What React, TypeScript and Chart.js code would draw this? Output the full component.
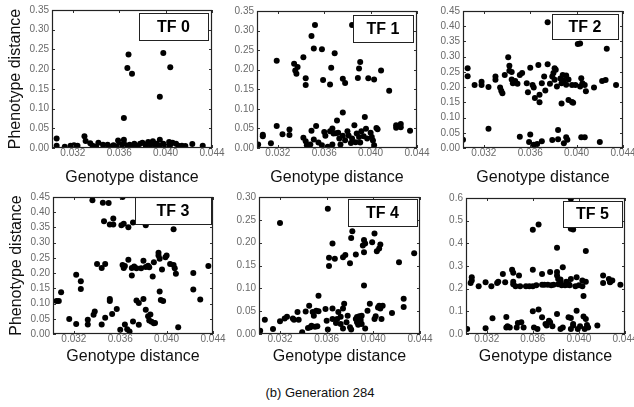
import React, { useEffect, useRef } from "react";
import { Chart, registerables } from "chart.js";

Chart.register(...registerables);

const FONT = 'Arial, "Liberation Sans", Helvetica, sans-serif';

// ---- tick values ----
const xTicks = [0.032, 0.036, 0.04, 0.044];
const yTicks035 = [0, 0.05, 0.1, 0.15, 0.2, 0.25, 0.3, 0.35];
const yTicks045 = [0, 0.05, 0.1, 0.15, 0.2, 0.25, 0.3, 0.35, 0.4, 0.45];
const yTicks030 = [0, 0.05, 0.1, 0.15, 0.2, 0.25, 0.3];
const yTicks06 = [0, 0.1, 0.2, 0.3, 0.4, 0.5, 0.6];
const xMin = 0.0302;
const xMax = 0.044;

const xTitle = "Genotype distance";
const yTitle = "Phenotype distance";
const caption = "(b) Generation 284";

// ---- data: [genotype distance, phenotype distance] ----
const tf0Points = [
  [0.0368, 0.237], [0.0367, 0.203], [0.0371, 0.188], [0.0398, 0.241], [0.0404, 0.205], [0.0395, 0.13], [0.0364, 0.076],
  [0.0306, 0.024], [0.0306, 0.006], [0.0313, 0.003], [0.0318, 0.006], [0.0321, 0.007], [0.0324, 0.006], [0.033, 0.03],
  [0.0331, 0.018], [0.0335, 0.012], [0.0337, 0.006], [0.034, 0.004], [0.0342, 0.013], [0.0346, 0.008], [0.035, 0.008],
  [0.0352, 0.003], [0.0355, 0.007], [0.0357, 0.004], [0.0359, 0.019], [0.036, 0.009], [0.0362, 0.003], [0.0364, 0.021],
  [0.0364, 0.012], [0.0367, 0.006], [0.0369, 0.008], [0.0371, 0.004], [0.0373, 0.011], [0.0376, 0.005], [0.0378, 0.011],
  [0.038, 0.013], [0.0383, 0.009], [0.0383, 0.004], [0.0385, 0.015], [0.0387, 0.009], [0.0389, 0.017], [0.039, 0.012],
  [0.0391, 0.005], [0.0392, 0.011], [0.0395, 0.021], [0.0395, 0.006], [0.0398, 0.011], [0.04, 0.004], [0.0403, 0.015],
  [0.0404, 0.008], [0.0406, 0.013], [0.0409, 0.011], [0.0411, 0.006], [0.0414, 0.006], [0.0417, 0.005], [0.0423, 0.01],
  [0.0432, 0.006],
];

const tf1Points = [
  [0.0352, 0.314], [0.0349, 0.286], [0.0351, 0.254], [0.0358, 0.252], [0.0342, 0.232], [0.0369, 0.242], [0.0319, 0.223],
  [0.0334, 0.215], [0.0337, 0.207], [0.0335, 0.198], [0.0336, 0.19], [0.0344, 0.178], [0.0344, 0.161], [0.0366, 0.205],
  [0.0359, 0.174], [0.0365, 0.162], [0.0376, 0.177], [0.0378, 0.166], [0.0384, 0.314], [0.0391, 0.22], [0.039, 0.203],
  [0.0389, 0.179], [0.0398, 0.178], [0.0403, 0.175], [0.0409, 0.198], [0.0416, 0.146], [0.0376, 0.091], [0.0395, 0.079],
  [0.0371, 0.07],
  [0.0303, 0.009], [0.0307, 0.034], [0.0307, 0.03], [0.0314, 0.012], [0.0319, 0.056], [0.0324, 0.035], [0.033, 0.047],
  [0.033, 0.033], [0.0342, 0.026], [0.0344, 0.017], [0.0345, 0.007], [0.0348, 0.009], [0.0349, 0.044], [0.0351, 0.022],
  [0.0353, 0.056], [0.0355, 0.014], [0.0358, 0.007], [0.036, 0.041], [0.0361, 0.031], [0.0363, 0.003], [0.0365, 0.043],
  [0.0367, 0.05], [0.0368, 0.037], [0.0367, 0.009], [0.037, 0.038], [0.0372, 0.039], [0.0373, 0.024], [0.0374, 0.009],
  [0.0376, 0.031], [0.0378, 0.02], [0.038, 0.043], [0.0381, 0.032], [0.0383, 0.013], [0.0384, 0.024], [0.0386, 0.058],
  [0.0387, 0.015], [0.0388, 0.037], [0.039, 0.028], [0.0391, 0.014], [0.0392, 0.043], [0.0394, 0.03], [0.0396, 0.049],
  [0.0397, 0.024], [0.04, 0.039], [0.0401, 0.028], [0.0402, 0.019], [0.0403, 0.007], [0.0405, 0.051], [0.0406, 0.048],
  [0.0422, 0.052], [0.0422, 0.058], [0.0426, 0.061], [0.0426, 0.053], [0.0434, 0.044],
];

const tf2Points = [
  [0.0375, 0.413], [0.0401, 0.342], [0.0403, 0.343], [0.0426, 0.326], [0.0341, 0.298], [0.0342, 0.27], [0.0342, 0.254],
  [0.0344, 0.25], [0.0306, 0.262], [0.0306, 0.236], [0.0312, 0.207], [0.0318, 0.218], [0.0318, 0.207], [0.0324, 0.2],
  [0.033, 0.235], [0.033, 0.224], [0.0334, 0.199], [0.0335, 0.188], [0.0336, 0.18], [0.0338, 0.24], [0.0344, 0.225],
  [0.0345, 0.213], [0.0347, 0.22], [0.0349, 0.211], [0.0351, 0.24], [0.0353, 0.246], [0.0357, 0.213], [0.036, 0.264],
  [0.0358, 0.183], [0.0362, 0.207], [0.0363, 0.199], [0.0364, 0.164], [0.0367, 0.273], [0.0368, 0.175], [0.0368, 0.15],
  [0.037, 0.213], [0.0372, 0.235], [0.0373, 0.189], [0.0375, 0.275], [0.0377, 0.211], [0.0379, 0.235], [0.038, 0.246],
  [0.0381, 0.262], [0.0382, 0.257], [0.0383, 0.202], [0.0381, 0.224], [0.0386, 0.228], [0.0387, 0.213], [0.0388, 0.24],
  [0.0389, 0.222], [0.0391, 0.238], [0.0391, 0.208], [0.0393, 0.225], [0.0387, 0.146], [0.0393, 0.158], [0.0396, 0.151],
  [0.0397, 0.149], [0.0396, 0.207], [0.0399, 0.207], [0.0403, 0.202], [0.0404, 0.229], [0.0405, 0.213], [0.0407, 0.207],
  [0.0408, 0.186], [0.0415, 0.199], [0.0422, 0.22], [0.0425, 0.223], [0.0434, 0.207],
  [0.0324, 0.063], [0.0351, 0.037], [0.036, 0.044], [0.0359, 0.02], [0.0363, 0.011], [0.0366, 0.013], [0.037, 0.022],
  [0.0379, 0.026], [0.0384, 0.059], [0.0384, 0.029], [0.0389, 0.016], [0.0391, 0.035], [0.0392, 0.027], [0.0404, 0.035],
  [0.0407, 0.035], [0.042, 0.02], [0.0302, 0.027],
];

const tf3Points = [
  [0.0336, 0.439], [0.0345, 0.431], [0.035, 0.43], [0.0362, 0.45], [0.0346, 0.37], [0.0354, 0.379], [0.0351, 0.36],
  [0.0354, 0.36], [0.0361, 0.357], [0.0363, 0.362], [0.0367, 0.351], [0.0371, 0.366], [0.0382, 0.357], [0.0406, 0.344],
  [0.034, 0.23], [0.0344, 0.217], [0.0347, 0.23], [0.0362, 0.227], [0.0363, 0.217], [0.0364, 0.223], [0.0367, 0.244],
  [0.037, 0.192], [0.037, 0.217], [0.0372, 0.222], [0.0374, 0.216], [0.0378, 0.216], [0.038, 0.241], [0.0382, 0.22],
  [0.0384, 0.224], [0.0385, 0.219], [0.0388, 0.189], [0.0389, 0.236], [0.0393, 0.267], [0.0393, 0.258], [0.0394, 0.247],
  [0.0396, 0.212], [0.0399, 0.252], [0.04, 0.258], [0.0403, 0.23], [0.0406, 0.227], [0.0407, 0.216], [0.0408, 0.198],
  [0.0423, 0.2], [0.0436, 0.223], [0.0322, 0.195], [0.0326, 0.173], [0.0326, 0.148],
  [0.0309, 0.137], [0.0305, 0.108], [0.0307, 0.108], [0.0316, 0.049], [0.0322, 0.033], [0.0332, 0.047], [0.0332, 0.031],
  [0.0337, 0.063], [0.0338, 0.074], [0.0344, 0.031], [0.0347, 0.053], [0.0351, 0.115], [0.0351, 0.108], [0.0353, 0.066],
  [0.0357, 0.082], [0.036, 0.014], [0.0364, 0.031], [0.0366, 0.016], [0.0368, 0.008], [0.0371, 0.041], [0.0374, 0.11],
  [0.0376, 0.102], [0.0376, 0.03], [0.038, 0.115], [0.0382, 0.08], [0.0384, 0.058], [0.0385, 0.044], [0.0386, 0.064],
  [0.0387, 0.04], [0.0389, 0.035], [0.039, 0.036], [0.0394, 0.14], [0.0395, 0.112], [0.0397, 0.108], [0.041, 0.022],
  [0.0423, 0.146], [0.0429, 0.113],
];

const tf4Points = [
  [0.0361, 0.274], [0.032, 0.243], [0.0382, 0.225], [0.0381, 0.21], [0.0401, 0.22], [0.0365, 0.198], [0.0392, 0.206],
  [0.0393, 0.198], [0.0391, 0.194], [0.0399, 0.201], [0.0406, 0.196], [0.0405, 0.187], [0.0403, 0.181], [0.0392, 0.179],
  [0.0385, 0.174], [0.0376, 0.173], [0.0374, 0.168], [0.0367, 0.165], [0.0362, 0.167], [0.0362, 0.149], [0.038, 0.155],
  [0.0422, 0.157], [0.0435, 0.177], [0.0392, 0.106], [0.0353, 0.084],
  [0.0303, 0.007], [0.0307, 0.031], [0.0314, 0.011], [0.032, 0.028], [0.0324, 0.034], [0.0326, 0.038], [0.0331, 0.034],
  [0.0332, 0.031], [0.0335, 0.048], [0.0336, 0.031], [0.0339, 0.004], [0.0342, 0.049], [0.0344, 0.013], [0.0345, 0.062],
  [0.0346, 0.015], [0.0347, 0.018], [0.0348, 0.048], [0.0349, 0.04], [0.035, 0.016], [0.0351, 0.051], [0.0352, 0.017],
  [0.0353, 0.05], [0.0359, 0.055], [0.036, 0.029], [0.0361, 0.01], [0.0365, 0.056], [0.0365, 0.033], [0.0368, 0.024],
  [0.0369, 0.033], [0.037, 0.048], [0.0372, 0.038], [0.0374, 0.056], [0.0375, 0.066], [0.0372, 0.022], [0.0374, 0.012],
  [0.0377, 0.026], [0.0378, 0.04], [0.038, 0.015], [0.0381, 0.01], [0.0385, 0.033], [0.0386, 0.026], [0.0386, 0.037],
  [0.0388, 0.039], [0.0389, 0.029], [0.039, 0.04], [0.0389, 0.033], [0.0387, 0.02], [0.039, 0.022], [0.0393, 0.012],
  [0.0395, 0.051], [0.0397, 0.066], [0.0401, 0.033], [0.0402, 0.039], [0.0404, 0.058], [0.0405, 0.062], [0.0408, 0.062],
  [0.0406, 0.056], [0.0407, 0.033], [0.0416, 0.046], [0.0426, 0.077], [0.0426, 0.059],
];

const tf5Points = [
  [0.0393, 0.597], [0.036, 0.46], [0.0365, 0.483], [0.0393, 0.464], [0.0395, 0.461], [0.0381, 0.38], [0.0406, 0.366],
  [0.0386, 0.295], [0.0342, 0.284], [0.0343, 0.27], [0.036, 0.284], [0.0334, 0.265], [0.0348, 0.258], [0.0368, 0.265],
  [0.0375, 0.273], [0.0381, 0.273], [0.0381, 0.258], [0.0382, 0.243], [0.0384, 0.24], [0.0393, 0.243], [0.0398, 0.25],
  [0.0403, 0.236], [0.0307, 0.25], [0.0307, 0.236], [0.0421, 0.258], [0.0426, 0.243], [0.0427, 0.231],
  [0.0306, 0.225], [0.0313, 0.211], [0.0319, 0.228], [0.0324, 0.211], [0.0329, 0.225], [0.033, 0.231], [0.0336, 0.228],
  [0.0343, 0.23], [0.0343, 0.22], [0.0345, 0.211], [0.0349, 0.211], [0.0354, 0.211], [0.0357, 0.211], [0.036, 0.211],
  [0.0363, 0.215], [0.0368, 0.217], [0.037, 0.217], [0.0373, 0.217], [0.0376, 0.215], [0.0378, 0.217], [0.0382, 0.22],
  [0.0385, 0.215], [0.0388, 0.215], [0.039, 0.217], [0.0392, 0.215], [0.0397, 0.211], [0.04, 0.215], [0.0403, 0.211],
  [0.0406, 0.23], [0.0384, 0.228], [0.0389, 0.231], [0.0391, 0.221], [0.0404, 0.168], [0.0421, 0.225], [0.0427, 0.228],
  [0.0429, 0.236], [0.0436, 0.217],
  [0.0303, 0.022], [0.0319, 0.025], [0.0325, 0.069], [0.0337, 0.075], [0.0337, 0.029], [0.0338, 0.034], [0.034, 0.029],
  [0.0346, 0.029], [0.0347, 0.049], [0.035, 0.052], [0.0352, 0.029], [0.036, 0.1], [0.0361, 0.029], [0.0364, 0.022],
  [0.0365, 0.108], [0.0368, 0.074], [0.0371, 0.044], [0.0372, 0.037], [0.0374, 0.059], [0.0375, 0.052], [0.0377, 0.034],
  [0.0381, 0.088], [0.0384, 0.022], [0.0386, 0.029], [0.0391, 0.074], [0.0393, 0.071], [0.0393, 0.022], [0.0395, 0.037],
  [0.0395, 0.044], [0.0398, 0.103], [0.0399, 0.022], [0.0401, 0.034], [0.0404, 0.077], [0.0406, 0.066], [0.0405, 0.022],
  [0.0407, 0.04], [0.0408, 0.029], [0.0416, 0.037],
];

type PanelCfg = {
  label: string;
  points: number[][];
  yTicks: number[];
  yDecimals: number;
  left: number;
  top: number;
  width: number;
  height: number;
  yAxisWidth: number;
  xAxisHeight: number;
  padTop: number;
  showYTitle: boolean;
  yTitlePad: number;
  boxW: number;
  boxH: number;
  boxRight: number;
  boxTop: number;
};

const panels: PanelCfg[] = [
  { label: "TF 0", points: tf0Points, yTicks: yTicks035, yDecimals: 2, left: 0, top: 0, width: 228, height: 190,
    yAxisWidth: 52, xAxisHeight: 38, padTop: 10, showYTitle: true, yTitlePad: 7.5,
    boxW: 69, boxH: 27, boxRight: 4, boxTop: 3 },
  { label: "TF 1", points: tf1Points, yTicks: yTicks035, yDecimals: 2, left: 227, top: 0, width: 206, height: 190,
    yAxisWidth: 30, xAxisHeight: 38, padTop: 11, showYTitle: false, yTitlePad: 0,
    boxW: 60, boxH: 27, boxRight: 4, boxTop: 4 },
  { label: "TF 2", points: tf2Points, yTicks: yTicks045, yDecimals: 2, left: 433, top: 0, width: 206, height: 190,
    yAxisWidth: 30, xAxisHeight: 38, padTop: 11, showYTitle: false, yTitlePad: 0,
    boxW: 66, boxH: 25, boxRight: 5, boxTop: 3 },
  { label: "TF 3", points: tf3Points, yTicks: yTicks045, yDecimals: 2, left: 0, top: 185, width: 229, height: 184,
    yAxisWidth: 53, xAxisHeight: 31, padTop: 12, showYTitle: true, yTitlePad: 9,
    boxW: 76, boxH: 27, boxRight: 2, boxTop: 0 },
  { label: "TF 4", points: tf4Points, yTicks: yTicks030, yDecimals: 2, left: 229, top: 185, width: 207, height: 184,
    yAxisWidth: 30, xAxisHeight: 31, padTop: 12, showYTitle: false, yTitlePad: 0,
    boxW: 69, boxH: 27, boxRight: 3, boxTop: 2 },
  { label: "TF 5", points: tf5Points, yTicks: yTicks06, yDecimals: 1, left: 436, top: 185, width: 205, height: 184,
    yAxisWidth: 30, xAxisHeight: 31, padTop: 13, showYTitle: false, yTitlePad: 0,
    boxW: 59, boxH: 26, boxRight: 3, boxTop: 3 },
];

const decorPlugin = {
  id: "decor",
  afterDatasetsDraw(chart: any, _args: any, opts: any) {
    const { ctx, chartArea } = chart;
    const { left, top, right, bottom } = chartArea;
    const xs = chart.scales.x;
    const ys = chart.scales.y;
    ctx.save();
    // inward tick marks
    ctx.strokeStyle = "#333";
    ctx.lineWidth = 1;
    ctx.beginPath();
    xs.ticks.forEach((t: any) => {
      const p = Math.round(xs.getPixelForValue(t.value)) + 0.5;
      ctx.moveTo(p, bottom);
      ctx.lineTo(p, bottom - 3);
      ctx.moveTo(p, top);
      ctx.lineTo(p, top + 3);
    });
    ys.ticks.forEach((t: any) => {
      const p = Math.round(ys.getPixelForValue(t.value)) + 0.5;
      ctx.moveTo(left, p);
      ctx.lineTo(left + 3, p);
      ctx.moveTo(right, p);
      ctx.lineTo(right - 3, p);
    });
    ctx.stroke();
    // label box
    const bx = Math.round(right - opts.boxRight - opts.boxW);
    const by = Math.round(top + opts.boxTop);
    ctx.fillStyle = "#fff";
    ctx.fillRect(bx, by, opts.boxW, opts.boxH);
    ctx.strokeStyle = "#222";
    ctx.strokeRect(bx + 0.5, by + 0.5, opts.boxW, opts.boxH);
    ctx.fillStyle = "#000";
    ctx.font = `bold 16px ${FONT}`;
    ctx.textAlign = "center";
    ctx.textBaseline = "middle";
    ctx.fillText(opts.label, bx + opts.boxW / 2, by + opts.boxH / 2 + 1);
    // frame
    ctx.strokeStyle = "#222";
    ctx.lineWidth = 1.2;
    ctx.strokeRect(left + 0.5, top + 0.5, right - left - 1, bottom - top - 1);
    ctx.restore();
  },
};

function Panel({ cfg }: { cfg: PanelCfg }) {
  const ref = useRef<HTMLCanvasElement>(null);
  useEffect(() => {
    if (!ref.current) return;
    const yT = cfg.yTicks;
    const chart = new Chart(ref.current, {
      type: "scatter",
      data: {
        datasets: [
          {
            data: cfg.points.map(([x, y]) => ({ x, y })),
            backgroundColor: "#000",
            borderColor: "#000",
            pointRadius: 3,
            pointBorderWidth: 0,
            clip: 0,
          } as any,
        ],
      },
      options: {
        animation: false,
        responsive: false,
        events: [],
        layout: { padding: { left: 0, right: 16, top: cfg.padTop, bottom: 4 } },
        plugins: {
          legend: { display: false },
          tooltip: { enabled: false },
          decor: {
            label: cfg.label,
            boxW: cfg.boxW,
            boxH: cfg.boxH,
            boxRight: cfg.boxRight,
            boxTop: cfg.boxTop,
          },
        } as any,
        scales: {
          x: {
            type: "linear",
            min: xMin,
            max: xMax,
            afterBuildTicks: (s: any) => {
              s.ticks = xTicks.map((v) => ({ value: v }));
            },
            afterFit: (s: any) => {
              s.height = cfg.xAxisHeight;
            },
            grid: { display: false, drawTicks: false },
            border: { display: false },
            ticks: {
              autoSkip: false,
              maxRotation: 0,
              padding: 0,
              color: "#6a6a6a",
              font: { family: FONT, size: 10, lineHeight: 1 },
              callback: (v: any) => Number(v).toFixed(3),
            },
            title: {
              display: true,
              text: xTitle,
              color: "#111",
              font: { family: FONT, size: 16, lineHeight: 1 },
              padding: { top: 0, bottom: 0 },
            },
          },
          y: {
            type: "linear",
            min: 0,
            max: yT[yT.length - 1],
            afterBuildTicks: (s: any) => {
              s.ticks = yT.map((v) => ({ value: v }));
            },
            afterFit: (s: any) => {
              s.width = cfg.yAxisWidth;
            },
            grid: { display: false, drawTicks: false },
            border: { display: false },
            ticks: {
              autoSkip: false,
              padding: 3,
              color: "#6a6a6a",
              font: { family: FONT, size: 10, lineHeight: 1 },
              callback: (v: any) => Number(v).toFixed(cfg.yDecimals),
            },
            title: {
              display: cfg.showYTitle,
              text: yTitle,
              color: "#111",
              font: { family: FONT, size: 16, lineHeight: 1 },
              padding: { top: cfg.yTitlePad, bottom: 0 },
            },
          },
        },
      } as any,
      plugins: [decorPlugin as any],
    });
    return () => chart.destroy();
  }, [cfg]);
  return (
    <canvas
      ref={ref}
      width={cfg.width}
      height={cfg.height}
      style={{ position: "absolute", left: cfg.left, top: cfg.top, width: cfg.width, height: cfg.height }}
    />
  );
}

export default function App() {
  return (
    <div
      style={{
        position: "absolute",
        left: 0,
        top: 0,
        width: 634,
        height: 407,
        overflow: "hidden",
        background: "#fff",
      }}
    >
      {panels.map((p) => (
        <Panel key={p.label} cfg={p} />
      ))}
      <div
        style={{
          position: "absolute",
          left: 220,
          top: 386,
          width: 200,
          textAlign: "center",
          fontFamily: FONT,
          fontSize: 13,
          lineHeight: "14px",
          color: "#111",
        }}
      >
        {caption}
      </div>
    </div>
  );
}
